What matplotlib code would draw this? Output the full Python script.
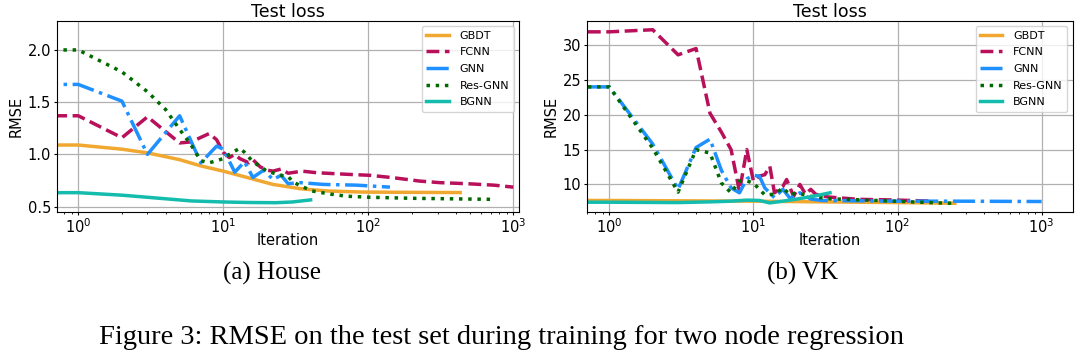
import numpy as np
import matplotlib
matplotlib.use("Agg")
import matplotlib.pyplot as plt

# House data (iteration, RMSE)
house_gbdt_it = [0, 1, 2, 3, 5, 7, 10, 15, 22, 34, 52, 90, 200, 430]
house_gbdt = [1.09, 1.09, 1.05, 1.015, 0.95, 0.89, 0.84, 0.775, 0.713, 0.672, 0.65, 0.64, 0.637, 0.635]
house_fcnn_it = [0, 1, 2, 3, 5, 6, 8, 9, 10, 11, 12, 13, 15, 16, 18, 20, 22, 25, 28, 35, 44, 71, 103, 149, 226, 311, 478, 734, 1000]
house_fcnn = [1.37, 1.37, 1.16, 1.36, 1.11, 1.12, 1.2, 1.14, 1.02, 0.97, 1.0, 0.96, 0.92, 0.95, 0.88, 0.85, 0.84, 0.86, 0.82, 0.84, 0.825, 0.81, 0.80, 0.777, 0.745, 0.73, 0.72, 0.706, 0.687]
house_gnn_it = [0, 1, 2, 3, 5, 7, 9, 10, 12, 14, 16, 19, 22, 25, 28, 34, 49, 83, 141]
house_gnn = [1.67, 1.67, 1.51, 1.0, 1.37, 0.92, 1.08, 1.05, 0.83, 0.93, 0.78, 0.85, 0.76, 0.8, 0.72, 0.73, 0.713, 0.706, 0.687]
house_res_it = [0, 1, 2, 3, 4, 5, 6, 7, 8, 9, 10, 11, 13, 14, 16, 20, 25, 28, 30, 34, 41, 55, 71, 103, 204, 734]
house_res = [2.0, 2.0, 1.79, 1.60, 1.43, 1.24, 1.09, 0.94, 0.92, 0.94, 0.96, 1.0, 1.06, 1.02, 0.93, 0.84, 0.80, 0.79, 0.74, 0.70, 0.65, 0.62, 0.60, 0.59, 0.58, 0.57]
house_bgnn_it = [0, 1, 2, 3, 6, 10, 15, 23, 30, 40]
house_bgnn = [0.634, 0.634, 0.61, 0.59, 0.555, 0.545, 0.54, 0.538, 0.545, 0.565]

# VK data (iteration, RMSE)
vk_gbdt_it = [0, 1, 10, 30, 100, 250]
vk_gbdt = [7.7, 7.7, 7.6, 7.5, 7.4, 7.3]
vk_fcnn_it = [0, 1, 2, 3, 4, 5, 6, 7, 8, 9, 10, 11, 12, 13, 14, 16, 17, 19, 21, 23, 25, 27, 33, 54, 95, 176]
vk_fcnn = [31.9, 31.9, 32.2, 28.6, 29.5, 20.2, 17.5, 15.0, 9.0, 15.0, 10.5, 11.2, 11.4, 12.6, 8.8, 9.7, 10.7, 8.3, 10.0, 8.6, 9.3, 8.6, 8.2, 7.86, 7.77, 7.6]
vk_gnn_it = [0, 1, 2, 3, 4, 5, 6, 7, 8, 9, 10, 11, 12, 14, 16, 18, 21, 25, 30, 100, 240, 1000]
vk_gnn = [24.0, 24.0, 15.8, 9.3, 15.3, 16.5, 12.0, 9.5, 8.8, 10.8, 11.3, 11.2, 9.5, 8.1, 9.3, 8.0, 8.8, 7.9, 7.7, 7.6, 7.6, 7.55]
vk_res_it = [0, 1, 2, 3, 4, 5, 6, 7, 8, 9, 10, 11, 12, 14, 16, 18, 20, 25, 33, 54, 95, 195, 240]
vk_res = [24.0, 24.0, 15.2, 8.9, 15.0, 14.5, 10.2, 8.8, 10.5, 10.5, 10.2, 9.3, 8.5, 8.6, 9.5, 8.5, 8.8, 8.3, 7.95, 7.8, 7.6, 7.35, 7.3]
vk_bgnn_it = [0, 1, 3, 5, 7, 9, 11, 13, 16, 20, 26, 34]
vk_bgnn = [7.45, 7.45, 7.4, 7.5, 7.6, 7.75, 7.7, 7.35, 7.6, 7.9, 8.3, 8.8]

names = ["GBDT", "FCNN", "GNN", "Res-GNN", "BGNN"]
colors = ["#F0A830", "#B8105A", "#1E90FF", "#006A00", "#14BCAE"]
styles = ["-", "--", "-.", ":", "-"]

house = [(house_gbdt_it, house_gbdt), (house_fcnn_it, house_fcnn), (house_gnn_it, house_gnn),
         (house_res_it, house_res), (house_bgnn_it, house_bgnn)]
vk = [(vk_gbdt_it, vk_gbdt), (vk_fcnn_it, vk_fcnn), (vk_gnn_it, vk_gnn),
      (vk_res_it, vk_res), (vk_bgnn_it, vk_bgnn)]

fig = plt.figure(figsize=(10.84, 3.61), dpi=100)
ax1 = fig.add_axes([0.0523, 0.4136, 0.4268, 0.5291])
ax2 = fig.add_axes([0.5415, 0.4136, 0.4483, 0.5291])

for ax, data, xl, yl, yt in [(ax1, house, (0.71, 1100), (0.452, 2.28), [0.5, 1.0, 1.5, 2.0]),
                             (ax2, vk, (0.70, 1650), (6.09, 33.5), [10, 15, 20, 25, 30])]:
    for (it, val), n, c, s in zip(data, names, colors, styles):
        ax.plot(it, val, color=c, linestyle=s, linewidth=2.5, label=n)
    ax.set_xscale("log")
    ax.set_xlim(*xl)
    ax.set_ylim(*yl)
    ax.set_yticks(yt)
    ax.grid(True, color="#b0b0b0", linewidth=0.9)
    ax.tick_params(labelsize=10.5, length=2.5, pad=1.5)
    ax.tick_params(which="minor", length=1.5)
    ax.set_title("Test loss", fontsize=12.5, pad=2.5)
    ax.set_xlabel("Iteration", fontsize=10.5, labelpad=-2)
    ax.set_ylabel("RMSE", fontsize=10.5, labelpad=3)
    ax.legend(loc="upper right", fontsize=8, handlelength=2.0, labelspacing=0.6,
              handletextpad=1.0)

serif = ["Liberation Serif", "DejaVu Serif"]
fig.text(0.251, 1 - 273 / 361, "(a) House", ha="center", va="center", fontsize=18, family=serif)
fig.text(0.740, 1 - 273 / 361, "(b) VK", ha="center", va="center", fontsize=18, family=serif)
fig.text(99 / 1084, 1 - 338 / 361, "Figure 3: RMSE on the test set during training for two node regression",
         ha="left", va="center", fontsize=20.5, family=serif)

fig.savefig("out.png", dpi=100)
